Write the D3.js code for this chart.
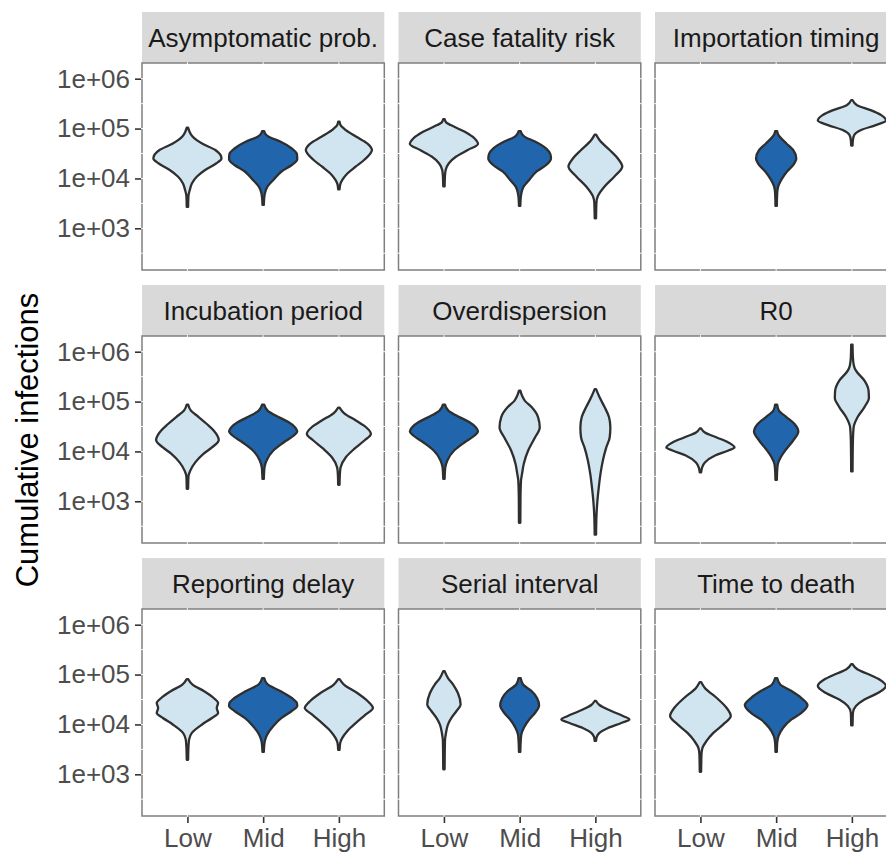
<!DOCTYPE html>
<html><head><meta charset="utf-8">
<script src="https://cdn.jsdelivr.net/npm/d3@7"></script>
<style>body{margin:0;background:#fff}svg{display:block}</style>
</head><body>
<svg id="chart" width="886" height="854"></svg>
<script>
// ---------- data ----------
const facets = ["Asymptomatic prob.", "Case fatality risk", "Importation timing",
                "Incubation period", "Overdispersion", "R0",
                "Reporting delay", "Serial interval", "Time to death"];
const levels = ["Low", "Mid", "High"];
// level that is the baseline scenario in each facet (drawn dark)
const baselineLevel = ["Mid", "Mid", "Mid", "Mid", "Low", "Mid", "Mid", "Mid", "Mid"];
const yTickValues = [1e3, 1e4, 1e5, 1e6];
const yTickLabels = ["1e+03", "1e+04", "1e+05", "1e+06"];
const yTitle = "Cumulative infections";

// Violin profiles: [log10(cumulative infections), relative density width], top to bottom.
const asymptomaticProb = [
  [[5.02,.02],[4.94,.06],[4.84,.15],[4.70,.43],[4.57,.82],[4.40,1.0],[4.30,.84],[4.17,.52],[4.04,.28],[3.90,.13],[3.77,.07],[3.65,.03],[3.43,.02]],
  [[4.95,.03],[4.90,.06],[4.84,.15],[4.74,.5],[4.60,.84],[4.49,.99],[4.38,1.0],[4.27,.84],[4.14,.54],[3.97,.3],[3.84,.13],[3.70,.05],[3.60,.03],[3.47,.02]],
  [[5.14,.02],[5.07,.05],[5.00,.15],[4.84,.5],[4.70,.84],[4.57,.97],[4.37,.74],[4.24,.5],[4.10,.25],[3.97,.1],[3.88,.04],[3.78,.02]]
];
const caseFatalityRisk = [
  [[5.19,.02],[5.12,.07],[5.07,.2],[4.94,.6],[4.80,.9],[4.69,1.0],[4.57,.7],[4.44,.36],[4.30,.14],[4.17,.05],[4.05,.03],[3.84,.02]],
  [[4.95,.03],[4.90,.06],[4.84,.14],[4.74,.45],[4.60,.78],[4.49,.9],[4.40,.92],[4.27,.78],[4.14,.5],[3.97,.28],[3.84,.12],[3.70,.05],[3.60,.03],[3.45,.02]],
  [[4.88,.02],[4.77,.12],[4.57,.42],[4.40,.66],[4.24,.79],[4.04,.56],[3.84,.27],[3.64,.07],[3.51,.03],[3.20,.02]]
];
const importationTiming = [
  null,
  [[4.95,.03],[4.88,.06],[4.84,.1],[4.70,.3],[4.57,.5],[4.40,.59],[4.27,.5],[4.14,.32],[3.97,.15],[3.84,.06],[3.70,.03],[3.45,.02]],
  [[5.57,.02],[5.47,.15],[5.37,.55],[5.27,.86],[5.16,1.0],[5.07,.7],[4.97,.27],[4.87,.07],[4.77,.03],[4.66,.02]]
];
const incubationPeriod = [
  [[4.94,.02],[4.82,.1],[4.69,.33],[4.55,.57],[4.42,.77],[4.23,.92],[4.08,.72],[3.95,.47],[3.78,.23],[3.61,.08],[3.50,.03],[3.25,.02]],
  [[4.94,.03],[4.82,.13],[4.69,.45],[4.59,.74],[4.48,.94],[4.40,1.0],[4.32,.9],[4.18,.6],[4.02,.3],[3.82,.1],[3.68,.04],[3.45,.02]],
  [[4.88,.02],[4.77,.15],[4.62,.5],[4.49,.79],[4.35,.94],[4.22,.75],[4.05,.45],[3.88,.2],[3.68,.05],[3.55,.03],[3.33,.02]]
];
const overdispersion = [
  [[4.94,.03],[4.82,.13],[4.69,.45],[4.59,.74],[4.48,.94],[4.40,1.0],[4.32,.9],[4.18,.6],[4.02,.3],[3.82,.1],[3.68,.04],[3.45,.02]],
  [[5.22,.02],[5.12,.07],[5.02,.15],[4.89,.35],[4.69,.54],[4.48,.59],[4.28,.45],[4.02,.25],[3.75,.12],[3.55,.07],[3.42,.04],[3.09,.025],[2.57,.02]],
  [[5.25,.02],[5.09,.12],[4.89,.27],[4.69,.4],[4.48,.44],[4.28,.42],[4.08,.32],[3.82,.22],[3.55,.15],[3.28,.1],[3.01,.06],[2.75,.035],[2.33,.02]]
];
const r0 = [
  [[4.46,.02],[4.38,.13],[4.28,.48],[4.18,.82],[4.08,1.0],[4.02,.82],[3.92,.43],[3.78,.13],[3.68,.05],[3.58,.02]],
  [[4.94,.03],[4.82,.08],[4.69,.3],[4.55,.54],[4.40,.65],[4.22,.5],[4.05,.3],[3.88,.13],[3.75,.05],[3.62,.03],[3.43,.02]],
  [[6.14,.02],[5.89,.03],[5.72,.06],[5.62,.12],[5.42,.37],[5.22,.49],[5.07,.5],[4.89,.37],[4.69,.17],[4.48,.05],[4.22,.03],[3.60,.02]]
];
const reportingDelay = [
  [[4.91,.02],[4.80,.15],[4.67,.48],[4.53,.77],[4.43,.9],[4.33,.86],[4.23,.9],[4.13,.72],[4.00,.43],[3.83,.13],[3.70,.05],[3.55,.03],[3.29,.02]],
  [[4.93,.03],[4.81,.12],[4.67,.5],[4.53,.84],[4.43,.99],[4.37,1.0],[4.27,.84],[4.13,.54],[3.97,.3],[3.80,.12],[3.67,.05],[3.57,.03],[3.45,.02]],
  [[4.91,.02],[4.80,.15],[4.63,.54],[4.47,.84],[4.33,1.0],[4.20,.79],[4.03,.5],[3.87,.25],[3.73,.1],[3.63,.04],[3.49,.02]]
];
const serialInterval = [
  [[5.07,.02],[4.93,.12],[4.80,.27],[4.63,.41],[4.40,.49],[4.27,.37],[4.13,.22],[4.00,.12],[3.83,.06],[3.67,.03],[3.10,.02]],
  [[4.93,.03],[4.80,.1],[4.67,.35],[4.53,.51],[4.38,.57],[4.23,.45],[4.10,.28],[3.93,.12],[3.80,.05],[3.65,.03],[3.45,.02]],
  [[4.47,.02],[4.39,.12],[4.27,.47],[4.17,.81],[4.10,1.0],[4.03,.76],[3.93,.37],[3.83,.12],[3.75,.04],[3.67,.02]]
];
const timeToDeath = [
  [[4.85,.02],[4.73,.13],[4.53,.48],[4.33,.77],[4.17,.89],[4.00,.67],[3.83,.38],[3.67,.18],[3.53,.06],[3.40,.03],[3.05,.02]],
  [[4.93,.03],[4.80,.12],[4.67,.45],[4.53,.74],[4.39,.92],[4.23,.74],[4.10,.45],[3.93,.2],[3.77,.07],[3.63,.03],[3.45,.02]],
  [[5.21,.02],[5.10,.17],[5.00,.51],[4.90,.81],[4.77,1.0],[4.63,.76],[4.50,.37],[4.37,.12],[4.23,.03],[3.98,.02]]
];
const profiles = [asymptomaticProb, caseFatalityRisk, importationTiming,
                  incubationPeriod, overdispersion, r0,
                  reportingDelay, serialInterval, timeToDeath];

// ---------- layout & style ----------
const baselineFill = "#2166AC", otherFill = "#D1E5F0";
const panelLeft0 = 142, colStep = 256.5, panelW = 242.3;
const stripTop0 = 12, rowStep = 273, stripH = 51, panelH = 207;
const logMin = 2.164, logMax = 6.315;
const violinWidth = 0.9;
const font = "'Liberation Sans', Arial, Helvetica, sans-serif";

const svg = d3.select("#chart");

facets.forEach((name, i) => {
  const col = i % 3, row = Math.floor(i / 3);
  const left = panelLeft0 + col * colStep;
  const stripTop = stripTop0 + row * rowStep;
  const top = stripTop + stripH;
  const bottom = top + panelH;

  const x = d3.scalePoint().domain(levels).range([left, left + panelW]).padding(0.6);
  const y = d3.scaleLog().domain([10 ** logMin, 10 ** logMax]).range([bottom, top]);
  const halfMax = x.step() * violinWidth / 2;

  const g = svg.append("g");

  // strip
  g.append("rect").attr("x", left).attr("y", stripTop).attr("width", panelW).attr("height", stripH)
    .attr("fill", "#D9D9D9");
  g.append("text").attr("x", left + panelW / 2).attr("y", stripTop + 35)
    .attr("text-anchor", "middle").attr("font-family", font).attr("font-size", 26)
    .attr("fill", "#1A1A1A").text(name);

  // panel background with border
  g.append("rect").attr("x", left).attr("y", top).attr("width", panelW).attr("height", panelH)
    .attr("fill", "#fff").attr("stroke", "#7F7F7F").attr("stroke-width", 1.5);

  // white grid lines (major + minor)
  const majors = [1e2, 1e3, 1e4, 1e5, 1e6, 1e7];
  const minors = d3.pairs(majors).map(([a, b]) => Math.sqrt(a * b));
  const [d0, d1] = y.domain();
  majors.concat(minors).filter(v => v >= d0 && v <= d1).forEach(v => {
    g.append("line").attr("x1", left - 0.8).attr("x2", left + panelW + 0.8)
      .attr("y1", y(v)).attr("y2", y(v)).attr("stroke", "#fff").attr("stroke-width", 1);
  });
  levels.forEach(l => {
    g.append("line").attr("x1", x(l)).attr("x2", x(l)).attr("y1", top - 0.8).attr("y2", bottom + 0.8)
      .attr("stroke", "#fff").attr("stroke-width", 1);
  });

  // violins
  const area = d3.area()
    .y(d => y(10 ** d[0]))
    .curve(d3.curveMonotoneY);
  levels.forEach((l, k) => {
    const prof = profiles[i][k];
    if (!prof) return;
    const cx = x(l);
    g.append("path").datum(prof)
      .attr("d", area.x0(d => cx - d[1] * halfMax).x1(d => cx + d[1] * halfMax))
      .attr("fill", l === baselineLevel[i] ? baselineFill : otherFill)
      .attr("stroke", "#2F2F2F").attr("stroke-width", 2.3)
      .attr("stroke-linejoin", "round");
  });

  // y axis on left column
  if (col === 0) {
    const ax = d3.axisLeft(y).tickValues(yTickValues)
      .tickFormat((d, j) => yTickLabels[j]).tickSize(6).tickPadding(5);
    const ag = g.append("g").attr("transform", `translate(${left - 1},0)`).call(ax);
    ag.select(".domain").remove();
    ag.selectAll(".tick line").attr("stroke", "#333333").attr("stroke-width", 1.6);
    ag.selectAll(".tick text").attr("font-family", font).attr("font-size", 26).attr("fill", "#4D4D4D");
  }
  // x axis on bottom row
  if (row === 2) {
    const ax = d3.axisBottom(x).tickSize(6).tickPadding(6);
    const ag = g.append("g").attr("transform", `translate(0,${bottom + 1})`).call(ax);
    ag.select(".domain").remove();
    ag.selectAll(".tick line").attr("stroke", "#333333").attr("stroke-width", 1.6);
    ag.selectAll(".tick text").attr("font-family", font).attr("font-size", 26).attr("fill", "#4D4D4D");
  }
});

svg.append("text")
  .attr("transform", `translate(38,440) rotate(-90)`)
  .attr("text-anchor", "middle").attr("font-family", font).attr("font-size", 31)
  .attr("fill", "#000").text(yTitle);
</script>
</body></html>
